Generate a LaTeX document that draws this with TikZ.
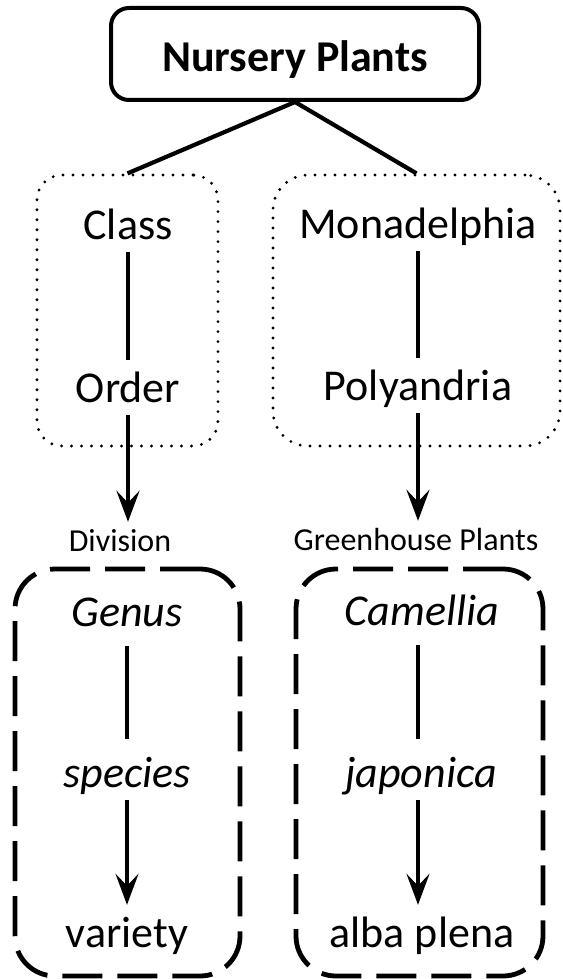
\documentclass[tikz,border=0pt]{standalone}
\usepackage{fontspec}
\setmainfont{Carlito}
\usetikzlibrary{arrows.meta}
\begin{document}
\begin{tikzpicture}[x=1pt,y=-1pt,
  topbox/.style={draw, line width=4pt, rounded corners=18pt, minimum width=368pt, minimum height=92pt,
    inner sep=0pt, text height=36pt, text depth=0pt, font=\fontsize{44}{50}\selectfont\bfseries},
  lbl/.style={anchor=base, font=\fontsize{44}{50}\selectfont, text height=29pt, text depth=0pt, inner sep=13pt},
  sml/.style={anchor=base, font=\fontsize{32}{38}\selectfont, text height=21pt, text depth=0pt, inner sep=8pt},
  dotbox/.style={draw, line width=3.2pt, line cap=round, dash pattern=on 0pt off 10pt, inner sep=0pt},
  dashbox/.style={draw, line width=4.8pt, dash pattern=on 40pt off 15pt, rounded corners=40pt, inner sep=0pt},
  link/.style={line width=4.2pt},
  arr/.style={line width=4.2pt, -{Stealth[length=31pt,width=23pt,inset=12pt]}},
  link2/.style={line width=3.8pt},
  arr2/.style={line width=3.8pt, -{Stealth[length=31pt,width=23pt,inset=12pt]}}
]
\useasboundingbox (0,0) rectangle (562,979);

% top
\node[topbox] (top) at (295,54) {Nursery Plants};

% dotted groups
\node[dotbox, rounded corners=25pt, minimum width=181pt, minimum height=271pt] (lgrp) at (127.5,310.5) {};
\node[dotbox, rounded corners=35pt, minimum width=287pt, minimum height=271pt] (rgrp) at (416.5,310.5) {};

% dashed groups
\node[dashbox, minimum width=225pt, minimum height=407pt] (lbox) at (127.5,772.5) {};
\node[dashbox, minimum width=247pt, minimum height=407pt] (rbox) at (419.5,772.5) {};

% labels
\node[lbl] (class) at (128,239) {Class};
\node[lbl] (order) at (128,402) {Order};
\node[lbl] (mona) at (418,238) {Monadelphia};
\node[lbl] (poly) at (418,400) {Polyandria};
\node[sml] (div) at (120,551) {Division};
\node[sml] (green) at (416,550) {Greenhouse Plants};
\node[lbl] (genus) at (127,626) {\itshape Genus};
\node[lbl] (species) at (127,787) {\itshape species};
\node[lbl] (variety) at (127,947) {variety};
\node[lbl] (cam) at (422,625) {\itshape Camellia};
\node[lbl] (jap) at (421,787) {\itshape japonica};
\node[lbl] (alba) at (422,947) {alba plena};

% connectors
\draw[link] (top.south) -- (lgrp.north);
\draw[link] (top.south) -- (rgrp.north);
\draw[link] (class.south) -- (class.south |- order.north);
\draw[arr] (order.south) -- (order.south |- div.north);
\draw[link] (mona.south) -- (mona.south |- poly.north);
\draw[arr] (poly.south) -- (poly.south |- green.north);
\draw[link2, shorten <=7pt, shorten >=6pt] (genus.south) -- (genus.south |- species.north);
\draw[arr2] (species.south) -- (species.south |- variety.north);
\draw[link2, shorten <=7pt, shorten >=6pt] ([xshift=-4pt]cam.south) -- ([xshift=-4pt]cam.south |- jap.north);
\draw[arr2] ([xshift=-3pt]jap.south) -- ([xshift=-3pt]jap.south |- alba.north);
\end{tikzpicture}
\end{document}
